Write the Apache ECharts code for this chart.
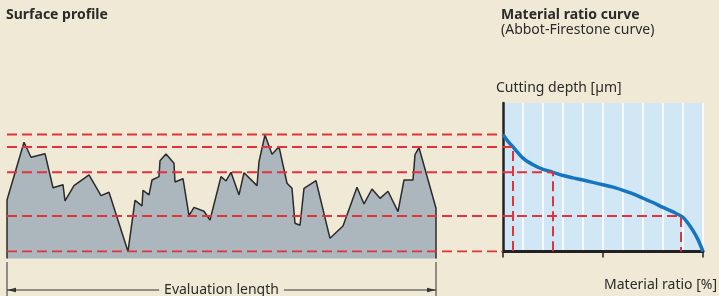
<!DOCTYPE html>
<html>
<head>
<meta charset="utf-8">
<script src="https://cdn.jsdelivr.net/npm/echarts@6/dist/echarts.min.js"></script>
<style>
  html, body { margin: 0; padding: 0; background: #f0e9d5; }
  #chart { width: 719px; height: 296px; }
</style>
</head>
<body>
<div id="chart"></div>
<script>
// surface profile (position along evaluation length, height in µm)
var profileX = [0, 0, 17, 24, 38, 46, 56, 58, 67, 82, 94, 102, 121, 128, 135, 136, 142, 145, 152, 153, 159, 167, 168, 176, 182, 187, 197, 203, 214, 219, 224, 232, 237, 250, 252, 258, 265, 272, 280, 285, 288, 293, 297, 309, 323, 336, 350, 357, 365, 373, 381, 391, 397, 406, 408, 412, 429, 429];
var profileY = [-0.7, 5.2, 11.03, 9.52, 9.88, 6.44, 6.75, 5.1, 6.65, 7.73, 5.64, 5.98, 0, 5.17, 4.6, 6.18, 5.71, 7.22, 7.56, 9.17, 9.85, 8.91, 7.02, 7.35, 3.62, 4.46, 4.06, 3.18, 7.56, 7.12, 8.0, 5.71, 7.96, 6.65, 9.07, 11.77, 9.82, 10.59, 6.89, 6.38, 2.85, 2.65, 6.38, 7.15, 1.33, 2.58, 6.48, 4.8, 6.31, 5.37, 6.08, 4.02, 7.22, 7.22, 9.78, 10.48, 4.36, -0.7];

// material ratio curve
var ratioPct = [0, 2.5, 5, 10, 15, 20, 25, 30, 35, 40, 45, 50, 55, 60, 65, 70, 75, 80, 85, 90, 92.5, 95, 97.5, 100];
var ratioDepth = [11.82, 11.12, 10.56, 9.43, 8.76, 8.3, 8.0, 7.68, 7.44, 7.22, 6.98, 6.74, 6.5, 6.18, 5.82, 5.38, 4.95, 4.45, 4.0, 3.45, 2.85, 2.1, 1.2, 0];

// cutting levels and their material ratio
var cutDepth = [11.82, 10.56, 8.0, 3.59, 0];
var cutRatio = [0, 5, 25, 89, 100];

var txt = '#2b2b2b';
var font = 'Noto Sans';

var myChart = echarts.init(document.getElementById('chart'));

function pairs(xs, ys) {
    var out = [];
    for (var i = 0; i < xs.length; i++) out.push([xs[i], ys[i]]);
    return out;
}

var cutSeries = [];
for (var i = 0; i < cutDepth.length; i++) {
    var d = cutDepth[i], r = cutRatio[i];
    var endX = d > 0 ? r : 0;
    var pts = [[-248, d], [endX, d]];
    if (d > 0 && r > 0) pts.push([r, 0]);
    cutSeries.push({
        type: 'line',
        xAxisIndex: 2,
        yAxisIndex: 2,
        data: pts,
        symbol: 'none',
        silent: true,
        z: 5,
        lineStyle: { color: '#e2323b', width: 2, type: [10, 5] }
    });
}

var option = {
    backgroundColor: '#f0e9d5',
    animation: false,
    title: [
        { text: 'Surface profile', left: 6, top: 8, padding: 0,
          textStyle: { fontFamily: font, fontSize: 14, fontWeight: 'bold', color: txt } },
        { text: 'Material ratio curve', subtext: '(Abbot-Firestone curve)', left: 501, top: 8, padding: 0, itemGap: 1,
          textStyle: { fontFamily: font, fontSize: 14, fontWeight: 'bold', color: txt },
          subtextStyle: { fontFamily: font, fontSize: 14, color: txt } },
        { text: 'Cutting depth [µm]', left: 496, top: 81, padding: 0,
          textStyle: { fontFamily: font, fontSize: 14, fontWeight: 'normal', color: txt } },
        { text: 'Material ratio [%]', right: 2, top: 278, padding: 0,
          textStyle: { fontFamily: font, fontSize: 14, fontWeight: 'normal', color: txt } }
    ],
    grid: [
        { left: 7, width: 429, top: 103, height: 155.4 },
        { left: 503, width: 200, top: 103, height: 148.5, show: true, backgroundColor: '#d1e7f6', borderWidth: 0 },
        { left: 7, width: 696, top: 103, height: 148.5 }
    ],
    xAxis: [
        { type: 'value', gridIndex: 0, min: 0, max: 429, show: false },
        { type: 'value', gridIndex: 1, min: 0, max: 100, interval: 50,
          axisLine: { onZero: false, lineStyle: { color: '#222', width: 3 } },
          axisTick: { show: true, length: 6, lineStyle: { color: '#222', width: 1.5 } },
          axisLabel: { show: false },
          splitLine: { show: true, lineStyle: { color: '#ffffff', width: 1.5 } },
          minorTick: { show: false, splitNumber: 5 },
          minorSplitLine: { show: true, lineStyle: { color: '#ffffff', width: 1.5 } } },
        { type: 'value', gridIndex: 2, min: -248, max: 100, show: false }
    ],
    yAxis: [
        { type: 'value', gridIndex: 0, min: -0.7, max: 15, show: false },
        { type: 'value', gridIndex: 1, min: 0, max: 15,
          axisLine: { show: true, lineStyle: { color: '#222', width: 2.5 } },
          axisTick: { show: false }, axisLabel: { show: false }, splitLine: { show: false } },
        { type: 'value', gridIndex: 2, min: 0, max: 15, show: false }
    ],
    series: [
        {
            type: 'line',
            xAxisIndex: 0,
            yAxisIndex: 0,
            data: pairs(profileX, profileY),
            symbol: 'none',
            lineStyle: { color: '#2b2b2b', width: 1.5 },
            areaStyle: { color: '#abb6bd', opacity: 1, origin: 'start' },
            z: 2
        },
        {
            type: 'line',
            xAxisIndex: 1,
            yAxisIndex: 1,
            data: pairs(ratioPct, ratioDepth),
            smooth: 0.3,
            symbol: 'none',
            lineStyle: { color: '#1675c0', width: 3.5 },
            z: 4
        }
    ].concat(cutSeries)
};

myChart.setOption(option);

// dimension line for the evaluation length
var x0 = myChart.convertToPixel({ xAxisIndex: 0 }, profileX[0]);
var x1 = myChart.convertToPixel({ xAxisIndex: 0 }, profileX[profileX.length - 1]);
var yDim = 290;
var dimColor = '#333';
myChart.setOption({
    graphic: [
        { type: 'line', shape: { x1: x0, y1: 262, x2: x0, y2: 296 }, style: { stroke: dimColor, lineWidth: 1 } },
        { type: 'line', shape: { x1: x1, y1: 262, x2: x1, y2: 296 }, style: { stroke: dimColor, lineWidth: 1 } },
        { type: 'line', shape: { x1: x0, y1: yDim, x2: x1, y2: yDim }, style: { stroke: dimColor, lineWidth: 1 } },
        { type: 'polygon', shape: { points: [[x0, yDim], [x0 + 9, yDim - 2.2], [x0 + 9, yDim + 2.2]] }, style: { fill: dimColor } },
        { type: 'polygon', shape: { points: [[x1, yDim], [x1 - 9, yDim - 2.2], [x1 - 9, yDim + 2.2]] }, style: { fill: dimColor } },
        { type: 'text', x: (x0 + x1) / 2, y: yDim, z: 10,
          style: { text: 'Evaluation length', fontFamily: font, fontSize: 14, fill: txt,
                   align: 'center', verticalAlign: 'middle',
                   backgroundColor: '#f0e9d5', padding: [0, 5] } }
    ]
});
</script>
</body>
</html>
